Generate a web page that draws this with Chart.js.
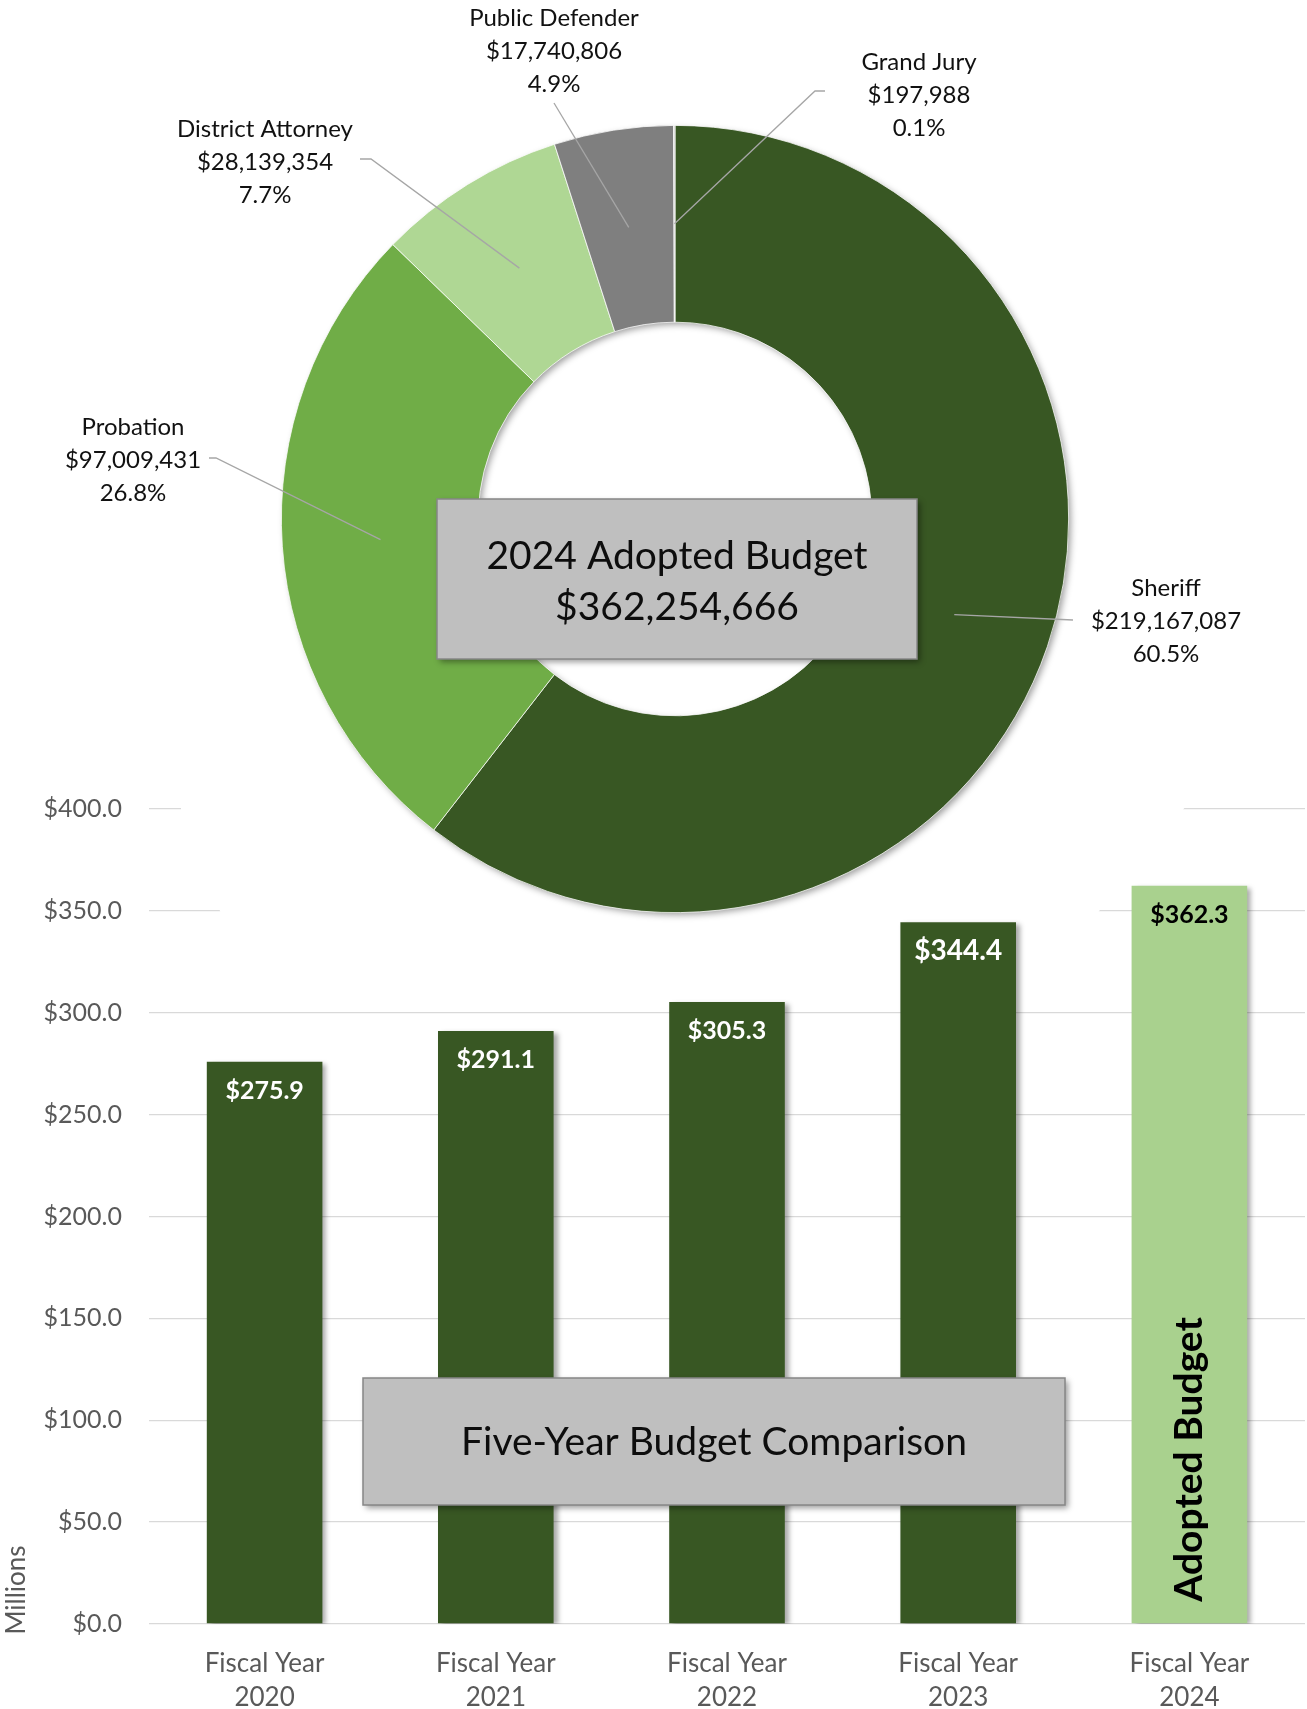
<!DOCTYPE html>
<html>
<head>
<meta charset="utf-8">
<script src="https://cdn.jsdelivr.net/npm/chart.js@4.4.1/dist/chart.umd.min.js"></script>
<style>
  html, body { margin: 0; padding: 0; background: #fff; }
  #quadro { position: relative; width: 1307px; height: 1709px; overflow: hidden; background: #fff; }
  #barras, #rosca { position: absolute; left: 0; top: 0; }
</style>
</head>
<body>
<div id="quadro">
  <canvas id="barras" width="1307" height="1709"></canvas>
  <canvas id="rosca" width="1307" height="930"></canvas>
</div>
<script>
// dados da rosca (orçamento adotado 2024)
const departamentos = ["Sheriff", "Probation", "District Attorney", "Public Defender", "Grand Jury"];
const orcamento2024 = [219167087, 97009431, 28139354, 17740806, 197988];
const percentuais = ["60.5%", "26.8%", "7.7%", "4.9%", "0.1%"];

// dados das barras (milhões)
const anosFiscais = [["Fiscal Year", "2020"], ["Fiscal Year", "2021"], ["Fiscal Year", "2022"], ["Fiscal Year", "2023"], ["Fiscal Year", "2024"]];
const totaisMilhoes = [275.9, 291.1, 305.3, 344.4, 362.3];
const ticksEixoY = [0, 50, 100, 150, 200, 250, 300, 350, 400];

const VERDE_ESCURO = "#385723";
const FONTE = "Lato, 'Open Sans', sans-serif";

const coresFatias = [VERDE_ESCURO, "#70AD47", "#AFD794", "#7F7F7F", "#C8C8C8"];
const coresBarras = ["#385723", "#385723", "#385723", "#385723", "#A9D18E"];
const tamanhoRotulo = [25, 25, 25, 28, 25];

// posição de cada rótulo da rosca: centro do texto e ponto onde a linha guia termina
const posRotulos = [
  { x: 1166, y: 621, linha: [[1073, 620]] },
  { x: 133, y: 460, linha: [[216, 458], [209, 458]] },
  { x: 265, y: 162, linha: [[371, 159], [360, 159]] },
  { x: 554, y: 51, linha: [[554, 103]] },
  { x: 919, y: 95, linha: [[815, 91], [825, 91]] }
];

function moeda(n) {
  return "$" + n.toLocaleString("en-US");
}

function caixa(ctx, x, y, w, h) {
  ctx.save();
  ctx.shadowColor = "rgba(0,0,0,0.4)";
  ctx.shadowBlur = 6;
  ctx.shadowOffsetX = 3;
  ctx.shadowOffsetY = 3;
  ctx.fillStyle = "#BFBFBF";
  ctx.fillRect(x, y, w, h);
  ctx.restore();
  ctx.save();
  ctx.strokeStyle = "#878787";
  ctx.lineWidth = 1.5;
  ctx.strokeRect(x, y, w, h);
  ctx.restore();
}

const sombraBarras = {
  id: "sombraBarras",
  beforeDatasetsDraw(chart) {
    const ctx = chart.ctx;
    ctx.save();
    ctx.shadowColor = "rgba(0,0,0,0.35)";
    ctx.shadowBlur = 5;
    ctx.shadowOffsetX = 4;
    ctx.shadowOffsetY = 2;
  },
  afterDatasetsDraw(chart) {
    chart.ctx.restore();
  }
};

const rotulosBarras = {
  id: "rotulosBarras",
  afterDatasetsDraw(chart) {
    const ctx = chart.ctx;
    const barras = chart.getDatasetMeta(0).data;
    ctx.save();
    ctx.textAlign = "center";
    ctx.textBaseline = "middle";
    barras.forEach((b, i) => {
      const ultima = i === barras.length - 1;
      ctx.font = "bold " + tamanhoRotulo[i] + "px " + FONTE;
      ctx.fillStyle = ultima ? "#000" : "#fff";
      ctx.fillText("$" + totaisMilhoes[i].toFixed(1), b.x, b.y + 29);
    });
    // texto vertical na barra do orçamento adotado
    const ult = barras[barras.length - 1];
    ctx.translate(ult.x, ult.base - 164);
    ctx.rotate(-Math.PI / 2);
    ctx.font = "bold 39px " + FONTE;
    ctx.fillStyle = "#000";
    ctx.fillText("Adopted Budget", 0, 0);
    ctx.restore();

    // título do eixo
    ctx.save();
    ctx.translate(17, chart.scales.y.bottom - 34);
    ctx.rotate(-Math.PI / 2);
    ctx.font = "26px " + FONTE;
    ctx.fillStyle = "#595959";
    ctx.textAlign = "center";
    ctx.textBaseline = "middle";
    ctx.fillText("Millions", 0, 0);
    ctx.restore();
  }
};

const caixaComparacao = {
  id: "caixaComparacao",
  afterDraw(chart) {
    const ctx = chart.ctx;
    caixa(ctx, 363, 1378, 702, 127);
    ctx.save();
    ctx.font = "39px " + FONTE;
    ctx.fillStyle = "#0d0d0d";
    ctx.textAlign = "center";
    ctx.textBaseline = "middle";
    ctx.fillText("Five-Year Budget Comparison", 714, 1442);
    ctx.restore();
  }
};

const fundoRosca = {
  id: "fundoRosca",
  beforeDatasetsDraw(chart) {
    const ctx = chart.ctx;
    const arco = chart.getDatasetMeta(0).data[0];
    const cx = arco.x, cy = arco.y;
    // área branca do gráfico de rosca, que esconde o topo das linhas de grade
    ctx.save();
    ctx.beginPath();
    ctx.moveTo(181, 0);
    ctx.lineTo(181, 812);
    ctx.lineTo(222, 916);
    ctx.lineTo(1095, 916);
    ctx.lineTo(1186, 806);
    ctx.lineTo(1186, 0);
    ctx.closePath();
    ctx.fillStyle = "#fff";
    ctx.fill();
    ctx.restore();
    // sombra do anel
    ctx.save();
    ctx.shadowColor = "rgba(0,0,0,0.4)";
    ctx.shadowBlur = 7;
    ctx.shadowOffsetX = 3;
    ctx.shadowOffsetY = 3;
    ctx.beginPath();
    ctx.arc(cx, cy, arco.outerRadius - 1, 0, Math.PI * 2);
    ctx.arc(cx, cy, arco.innerRadius + 1, 0, Math.PI * 2, true);
    ctx.fillStyle = "#fff";
    ctx.fill("evenodd");
    ctx.restore();
  }
};

const rotulosRosca = {
  id: "rotulosRosca",
  afterDatasetsDraw(chart) {
    const ctx = chart.ctx;
    const arcos = chart.getDatasetMeta(0).data;
    ctx.save();
    arcos.forEach((a, i) => {
      const p = a.getCenterPoint();
      const pos = posRotulos[i];
      ctx.strokeStyle = "#A6A6A6";
      ctx.lineWidth = 1.3;
      ctx.beginPath();
      ctx.moveTo(p.x, p.y);
      pos.linha.forEach(pt => ctx.lineTo(pt[0], pt[1]));
      ctx.stroke();
      ctx.font = "24px " + FONTE;
      ctx.fillStyle = "#111";
      ctx.textAlign = "center";
      ctx.textBaseline = "middle";
      ctx.fillText(departamentos[i], pos.x, pos.y - 33);
      ctx.fillText(moeda(orcamento2024[i]), pos.x, pos.y);
      ctx.fillText(percentuais[i], pos.x, pos.y + 33);
    });
    ctx.restore();
  },
  afterDraw(chart) {
    const ctx = chart.ctx;
    const total = orcamento2024.reduce((s, v) => s + v, 0);
    caixa(ctx, 437, 499, 480, 160);
    ctx.save();
    ctx.font = "39px " + FONTE;
    ctx.fillStyle = "#0d0d0d";
    ctx.textAlign = "center";
    ctx.textBaseline = "middle";
    ctx.fillText("2024 Adopted Budget", 677, 556);
    ctx.fillText(moeda(total), 677, 607);
    ctx.restore();
  }
};

function desenhar() {
  // Gráfico de barras – comparação de cinco anos
  new Chart(document.getElementById("barras"), {
    type: "bar",
    data: {
      labels: anosFiscais,
      datasets: [{
        data: totaisMilhoes,
        backgroundColor: coresBarras,
        barPercentage: 0.5,
        categoryPercentage: 1
      }]
    },
    options: {
      responsive: false,
      animation: false,
      layout: { padding: { top: 809, right: 2, left: 0, bottom: 0 } },
      plugins: {
        legend: { display: false },
        tooltip: { enabled: false }
      },
      scales: {
        x: {
          grid: { display: false },
          border: { display: false },
          ticks: {
            color: "#595959",
            font: { family: FONTE, size: 26, lineHeight: 1.3 },
            padding: 15,
            maxRotation: 0
          },
          afterFit: s => { s.height = 85; }
        },
        y: {
          min: 0,
          max: 400,
          afterBuildTicks: s => { s.ticks = ticksEixoY.map(v => ({ value: v })); },
          ticks: {
            color: "#595959",
            font: { family: FONTE, size: 25 },
            padding: 27,
            callback: v => "$" + Number(v).toFixed(1)
          },
          grid: { color: "#D9D9D9", lineWidth: 1.3, drawTicks: false },
          border: { display: false },
          afterFit: s => { s.width = 149; }
        }
      }
    },
    plugins: [sombraBarras, rotulosBarras, caixaComparacao]
  });

  // Gráfico de rosca – orçamento por departamento
  new Chart(document.getElementById("rosca"), {
    type: "doughnut",
    data: {
      labels: departamentos,
      datasets: [{
        data: orcamento2024,
        backgroundColor: coresFatias,
        borderWidth: 0.75,
        borderColor: "#fff"
      }]
    },
    options: {
      responsive: false,
      animation: false,
      cutout: "50%",
      layout: { padding: { left: 281, top: 125, right: 238, bottom: 17 } },
      plugins: {
        legend: { display: false },
        tooltip: { enabled: false }
      }
    },
    plugins: [fundoRosca, rotulosRosca]
  });
}

Promise.all([
  document.fonts.load("25px Lato"),
  document.fonts.load("bold 25px Lato")
]).then(desenhar, desenhar);
</script>
</body>
</html>
